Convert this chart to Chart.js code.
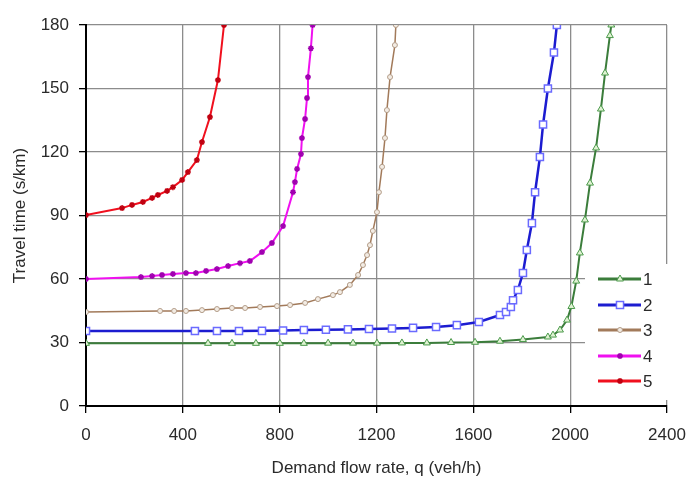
<!DOCTYPE html>
<html>
<head>
<meta charset="utf-8">
<title>Travel time vs demand flow rate</title>
<script src="https://cdn.jsdelivr.net/npm/chart.js@4.4.1/dist/chart.umd.min.js"></script>
<style>
  html, body { margin: 0; padding: 0; background: #fff; }
  #wrap { width: 691px; height: 479px; }
</style>
</head>
<body>
<div id="wrap"><canvas id="chart" width="691" height="479"></canvas></div>
<script>
// series labels
const seriesNames = ['1', '2', '3', '4', '5'];

// demand flow rate (veh/h) and travel time (s/km)
const flow1 = [0, 504, 603, 702, 801, 900, 1000, 1103, 1202, 1305, 1408, 1508, 1607, 1710, 1805, 1908, 1929, 1958, 1987, 2005, 2025, 2040, 2061, 2082, 2107, 2127, 2144, 2164, 2170];
const time1 = [29.6, 29.6, 29.6, 29.6, 29.6, 29.6, 29.7, 29.7, 29.7, 29.8, 29.8, 30.0, 30.1, 30.6, 31.4, 32.6, 33.5, 35.9, 40.6, 47, 59, 72.3, 87.9, 105.3, 121.9, 140.3, 157.3, 175, 180];

const flow2 = [0, 450, 541, 632, 727, 814, 900, 991, 1082, 1169, 1264, 1351, 1446, 1532, 1623, 1710, 1735, 1755, 1764, 1784, 1805, 1821, 1842, 1855, 1875, 1888, 1908, 1933, 1945];
const time2 = [35.4, 35.4, 35.4, 35.4, 35.5, 35.7, 35.9, 36.0, 36.2, 36.4, 36.6, 36.9, 37.3, 38.2, 39.7, 43.0, 44.4, 46.8, 50, 54.8, 62.8, 73.7, 86.4, 101, 117.6, 133, 150, 167, 180];

const flow3 = [0, 306, 364, 413, 479, 541, 603, 657, 719, 789, 843, 905, 958, 1020, 1049, 1090, 1124, 1144, 1161, 1173, 1185, 1202, 1210, 1223, 1235, 1243, 1256, 1276, 1280];
const time3 = [44.4, 44.9, 44.9, 44.9, 45.3, 45.8, 46.3, 46.3, 46.8, 47.2, 47.7, 48.7, 50.5, 52.4, 53.8, 57.2, 61.9, 66.6, 71.3, 76, 82.7, 91.6, 101, 113, 126.6, 139.8, 155.4, 170.5, 180];

const flow4 = [0, 227, 273, 314, 359, 413, 454, 496, 541, 587, 636, 677, 727, 768, 814, 855, 863, 872, 888, 892, 905, 913, 917, 929, 936];
const time4 = [60, 60.9, 61.4, 61.9, 62.4, 62.8, 62.8, 63.8, 64.7, 66.1, 67.5, 68.5, 72.7, 77, 85, 101, 105.8, 112, 119, 126.6, 135.6, 145.5, 155.4, 169, 180];

const flow5 = [0, 149, 190, 235, 273, 297, 335, 359, 397, 421, 458, 479, 512, 545, 570];
const time5 = [90.2, 93.5, 95, 96.4, 98.3, 99.7, 101.6, 103.4, 106.8, 110.5, 116.2, 124.7, 136.5, 154, 180];

// axis ticks
const xTicks = [0, 400, 800, 1200, 1600, 2000, 2400];
const yTicks = [0, 30, 60, 90, 120, 150, 180];

const FONT = "'Liberation Sans', Arial, sans-serif";
const TXT = '#2a2a2a';

function pts(xs, ys) {
  return xs.map((x, i) => ({x, y: ys[i]}));
}

const styles = [
  {line: '#3b7d3b', shape: 'triangle', r: 4, bg: '#dff2d2', border: '#4c9a4c', bw: 1, lw: 2},
  {line: '#1c1cd0', shape: 'rect', r: 5, bg: '#ffffff', border: '#6a6aff', bw: 1.5, lw: 2.5},
  {line: '#a27a5a', shape: 'circle', r: 2.5, bg: '#f3ece4', border: '#b29c88', bw: 1, lw: 1.5},
  {line: '#f010f0', shape: 'star', r: 3, bg: '#f010f0', border: '#a000b0', bw: 1.5, lw: 2},
  {line: '#f0101e', shape: 'star', r: 3, bg: '#f0101e', border: '#c00010', bw: 1.5, lw: 2}
];

const allFlows = [flow1, flow2, flow3, flow4, flow5];
const allTimes = [time1, time2, time3, time4, time5];

const datasets = seriesNames.map((name, i) => ({
  label: name,
  data: pts(allFlows[i], allTimes[i]),
  showLine: true,
  borderColor: styles[i].line,
  borderWidth: styles[i].lw,
  pointStyle: styles[i].shape,
  pointRadius: styles[i].r,
  pointBackgroundColor: styles[i].bg,
  pointBorderColor: styles[i].border,
  pointBorderWidth: styles[i].bw,
  tension: 0
}));

// legend box sitting inside the plot, lower right
const boxLegend = {
  id: 'boxLegend',
  beforeDatasetsDraw(chart) {
    const ctx = chart.ctx;
    ctx.save();
    ctx.fillStyle = '#fff';
    ctx.fillRect(585, 264, 86, 136);
    ctx.restore();
  },
  afterDatasetsDraw(chart) {
    const ctx = chart.ctx;
    ctx.save();
    const rows = [279, 305, 330, 356, 381];
    seriesNames.forEach((name, i) => {
      const s = styles[i];
      const y = rows[i];
      ctx.strokeStyle = s.line;
      ctx.lineWidth = 3;
      ctx.beginPath();
      ctx.moveTo(598, y);
      ctx.lineTo(641, y);
      ctx.stroke();
      if (Chart.helpers && Chart.helpers.drawPoint) {
        ctx.fillStyle = s.bg;
        ctx.strokeStyle = s.border;
        ctx.lineWidth = s.bw;
        Chart.helpers.drawPoint(ctx, {pointStyle: s.shape, radius: s.r, borderWidth: s.bw, rotation: 0}, 620, y);
      }
      ctx.fillStyle = TXT;
      ctx.font = '17px ' + FONT;
      ctx.textBaseline = 'middle';
      ctx.textAlign = 'left';
      ctx.fillText(name, 643, y + 1);
    });
    ctx.restore();
  }
};

new Chart(document.getElementById('chart'), {
  type: 'scatter',
  data: {datasets},
  plugins: [boxLegend],
  options: {
    responsive: false,
    devicePixelRatio: 1,
    animation: false,
    layout: {padding: {left: 0, top: 25, right: 24, bottom: 0}},
    plugins: {
      legend: {display: false},
      tooltip: {enabled: false}
    },
    scales: {
      x: {
        type: 'linear',
        min: 0,
        max: 2400,
        afterBuildTicks: (s) => { s.ticks = xTicks.map(v => ({value: v})); },
        afterFit: (s) => { s.height = 73; s.paddingLeft = 0; s.paddingRight = 0; },
        ticks: {color: TXT, font: {family: FONT, size: 17}, padding: 12, maxRotation: 0,
                callback: (v) => String(v)},
        grid: {color: '#8c8c8c', lineWidth: 1.3, tickColor: '#000', tickLength: 7, drawOnChartArea: true},
        border: {color: '#000', width: 2},
        title: {display: true, text: 'Demand flow rate, q (veh/h)', color: TXT,
                font: {family: FONT, size: 17}, padding: {top: 4, bottom: 0}}
      },
      y: {
        type: 'linear',
        min: 0,
        max: 180,
        afterBuildTicks: (s) => { s.ticks = yTicks.map(v => ({value: v})); },
        afterFit: (s) => { s.width = 86; s.paddingTop = 0; s.paddingBottom = 0; },
        ticks: {color: TXT, font: {family: FONT, size: 17}, padding: 10,
                callback: (v) => String(v)},
        grid: {color: '#8c8c8c', lineWidth: 1.3, tickColor: '#000', tickLength: 7},
        border: {color: '#000', width: 2},
        title: {display: true, text: 'Travel time (s/km)', color: TXT,
                font: {family: FONT, size: 17}, padding: {top: 10, bottom: 0}}
      }
    }
  }
});
</script>
</body>
</html>
